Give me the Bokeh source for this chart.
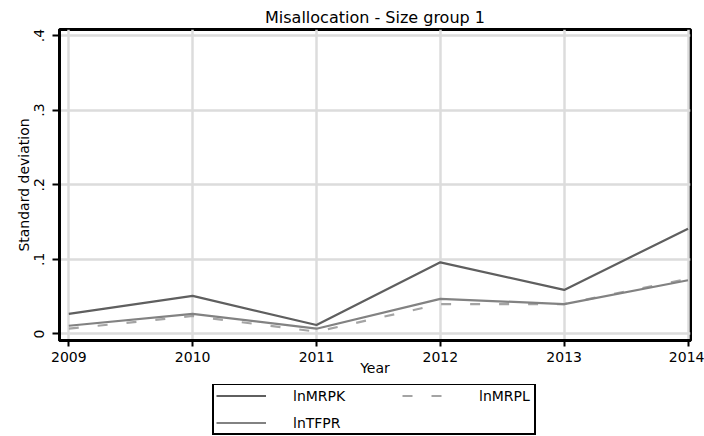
from bokeh.plotting import figure
from bokeh.layouts import column
from bokeh.models import Legend, LegendItem, FixedTicker, Range1d
from bokeh.embed import file_html
from bokeh.resources import INLINE

# Dispersion of log marginal products and TFPR, size group 1
years = [2009, 2010, 2011, 2012, 2013, 2014]
ln_mrpk = [0.027, 0.051, 0.012, 0.096, 0.059, 0.141]
ln_mrpl = [0.007, 0.024, 0.003, 0.040, 0.040, 0.074]
ln_tfpr = [0.011, 0.027, 0.007, 0.047, 0.040, 0.072]

y_ticks = [0, 0.1, 0.2, 0.3, 0.4]
y_tick_labels = ["0", ".1", ".2", ".3", ".4"]
series_names = ["lnMRPK", "lnMRPL", "lnTFPR"]
series_values = {"lnMRPK": ln_mrpk, "lnMRPL": ln_mrpl, "lnTFPR": ln_tfpr}

FONT = "DejaVu Sans"
STYLES = {
    "lnMRPK": dict(line_color="#5f5f5f", line_width=2.2),
    "lnMRPL": dict(line_color="#a4a4a4", line_width=2.2, line_dash="10 19"),
    "lnTFPR": dict(line_color="#828282", line_width=2.2),
}

p = figure(
    width=704, height=384,
    output_backend="svg", toolbar_location=None,
    x_range=Range1d(2008.925, 2014.02),
    y_range=Range1d(-0.0088, 0.408),
    min_border_left=59, min_border_right=14,
    min_border_top=29, min_border_bottom=44,
    title="Misallocation - Size group 1",
)
p.background_fill_color = "white"
p.border_fill_color = "white"
p.outline_line_color = "black"
p.outline_line_width = 3

p.title.align = "center"
p.title.text_font = FONT
p.title.text_font_size = "16px"
p.title.text_font_style = "normal"
p.title.text_color = "black"
p.title.standoff = 5

# axes
p.xaxis.ticker = FixedTicker(ticks=years)
p.yaxis.ticker = FixedTicker(ticks=y_ticks)
p.yaxis.major_label_overrides = {t: s for t, s in zip(y_ticks, y_tick_labels)}
p.yaxis.major_label_orientation = "vertical"
for ax in (p.xaxis, p.yaxis):
    ax.axis_line_color = "black"
    ax.axis_line_width = 3
    ax.major_tick_line_color = "black"
    ax.major_tick_line_width = 2
    ax.major_tick_in = 0
    ax.minor_tick_line_color = None
    ax.major_label_text_font = FONT
    ax.major_label_text_font_size = "14px"
    ax.major_label_text_color = "black"
    ax.axis_label_text_font = FONT
    ax.axis_label_text_font_size = "14px"
    ax.axis_label_text_font_style = "normal"
    ax.axis_label_text_color = "black"
    ax.axis_label_standoff = 0
p.xaxis.major_tick_out = 6
p.yaxis.major_tick_out = 7
p.xaxis.major_label_standoff = 5
p.xaxis.axis_label_standoff = -5
p.yaxis.major_label_standoff = 8
p.xaxis.axis_label = "Year"
p.yaxis.axis_label = "Standard deviation"

p.xgrid.ticker = FixedTicker(ticks=years)
p.ygrid.ticker = FixedTicker(ticks=y_ticks)
for g in (p.xgrid, p.ygrid):
    g.grid_line_color = "#dcdcdc"
    g.grid_line_width = 2.5

# series (drawn in legend order, TFPR last)
for name in series_names:
    p.line(years, series_values[name], **STYLES[name])

# legend strip under the chart; its key lines reuse the series (outside the strip's ranges)
leg = figure(
    width=704, height=52,
    output_backend="svg", toolbar_location=None,
    x_range=Range1d(0, 1), y_range=Range1d(0, 1),
    min_border=0, min_border_left=0, min_border_right=0,
    min_border_top=0, min_border_bottom=0,
)
leg.axis.visible = False
leg.grid.visible = False
leg.outline_line_color = None
leg.background_fill_color = "white"
leg.border_fill_color = "white"
keys = {name: leg.line(years, series_values[name], **STYLES[name]) for name in series_names}

common = dict(
    label_text_font=FONT,
    label_text_font_size="14px",
    label_text_color="black",
    glyph_width=50,
    glyph_height=17,
    label_height=17,
    label_standoff=27,
    spacing=10,
    padding=2,
    margin=0,
)
# left column with the outer frame
legend_left = Legend(
    items=[
        LegendItem(label=series_names[0], renderers=[keys["lnMRPK"]]),
        LegendItem(label=series_names[2], renderers=[keys["lnTFPR"]]),
    ],
    location=(153, 1),
    label_width=239,
    border_line_color="black",
    border_line_alpha=1.0,
    border_line_width=2.5,
    background_fill_color="white",
    background_fill_alpha=1.0,
    **common,
)
# right column, level with the first row
legend_right = Legend(
    items=[LegendItem(label=series_names[1], renderers=[keys["lnMRPL"]])],
    location=(343, 32),
    label_width=20,
    border_line_color=None,
    background_fill_alpha=0,
    **common,
)
leg.add_layout(legend_left, "center")
leg.add_layout(legend_right, "center")

layout = column(p, leg, spacing=0)
open("out.html", "w").write(file_html(layout, INLINE))
